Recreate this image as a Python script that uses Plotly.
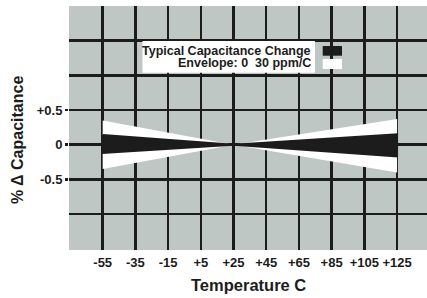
import plotly.graph_objects as go

# Data
temps = [-55, 25, 125]                      # Temperature C
envelope_upper = [0.35, 0.0, 0.37]          # % change, envelope top
envelope_lower = [-0.35, 0.0, -0.40]        # % change, envelope bottom
typical_upper = [0.14, 0.0, 0.15]           # % change, typical top
typical_lower = [-0.12, 0.0, -0.17]         # % change, typical bottom

x_tickvals = [-55, -35, -15, 5, 25, 45, 65, 85, 105, 125]
x_ticktext = ["-55", "-35", "-15", "+5", "+25", "+45", "+65", "+85", "+105", "+125"]
y_tickvals = [-0.5, 0, 0.5]
y_ticktext = ["-0.5", "0", "+0.5"]
y_minor_grid = [-1.0, 1.0, 1.5]

legend_lines = ["Typical Capacitance Change", "Envelope: 0  30 ppm/C"]

FONT = "Liberation Sans, Arial, sans-serif"
INK = "#1c1c1c"
BG = "#bfc7c4"

def bowtie(xs, up, lo):
    return xs + xs[::-1], up + lo[::-1]

fig = go.Figure()
ex, ey = bowtie(temps, envelope_upper, envelope_lower)
fig.add_trace(go.Scatter(x=ex + [ex[0]], y=ey + [ey[0]], fill="toself", mode="lines",
                         fillcolor="#ffffff", line=dict(width=0, color="#ffffff"),
                         hoverinfo="skip", showlegend=False))
tx, ty = bowtie(temps, typical_upper, typical_lower)
fig.add_trace(go.Scatter(x=tx + [tx[0]], y=ty + [ty[0]], fill="toself", mode="lines",
                         fillcolor=INK, line=dict(width=2, color=INK),
                         hoverinfo="skip", showlegend=False))

fig.update_layout(
    width=427, height=298,
    margin=dict(l=69, r=0, t=6, b=48, autoexpand=False),
    paper_bgcolor="#ffffff", plot_bgcolor=BG,
    font=dict(family=FONT, color=INK, size=13),
    showlegend=False,
    xaxis=dict(range=[-75.6, 143.3], tickvals=x_tickvals, ticktext=x_ticktext,
               showgrid=True, gridcolor=INK, gridwidth=2.5, zeroline=False,
               showline=False, ticks="", ticklabelstandoff=3,
               tickfont=dict(family=FONT, size=13, color=INK, weight="bold"),
               automargin=False, fixedrange=True),
    yaxis=dict(range=[-1.517, 1.998], tickvals=y_tickvals, ticktext=y_ticktext,
               showgrid=True, gridcolor=INK, gridwidth=2.5, zeroline=False,
               showline=False, ticks="outside", ticklen=3, tickwidth=2.5, tickcolor=INK,
               tickfont=dict(family=FONT, size=13, color=INK, weight="bold"),
               minor=dict(tickvals=y_minor_grid, showgrid=True, gridcolor=INK,
                          gridwidth=2.5, ticks=""),
               automargin=False, fixedrange=True),
)

# Legend box drawn as annotation box elements
fig.add_shape(type="rect", xref="paper", yref="paper", x0=0.2053, x1=0.687,
              y0=0.7266, y1=0.8566, fillcolor="#ffffff", line=dict(width=0), layer="above")
fig.add_shape(type="rect", xref="paper", yref="paper", x0=0.7087, x1=0.7626,
              y0=0.7963, y1=0.836, fillcolor=INK, line=dict(width=0), layer="above")
fig.add_shape(type="rect", xref="paper", yref="paper", x0=0.7087, x1=0.7626,
              y0=0.7418, y1=0.7828, fillcolor="#ffffff", line=dict(width=0), layer="above")

for i, (txt, ypx) in enumerate(zip(legend_lines, [50.8, 63.1])):
    fig.add_annotation(text=txt, xref="paper", yref="paper", x=(312.8 - 69) / 358,
                       y=(250 - ypx) / 244, xanchor="right", yanchor="middle",
                       showarrow=False, font=dict(family=FONT, size=12.5, color=INK, weight="bold"))

fig.add_annotation(text="Temperature C", xref="paper", yref="paper", x=0.5,
                   y=(250 - 285) / 244, xanchor="center", yanchor="middle", showarrow=False,
                   font=dict(family=FONT, size=16.5, color=INK, weight="bold"))
fig.add_annotation(text="% Δ Capacitance", xref="paper", yref="paper", x=(17 - 69) / 358,
                   y=(250 - 140) / 244, xanchor="center", yanchor="middle", textangle=-90,
                   showarrow=False, font=dict(family=FONT, size=16, color=INK, weight="bold"))

fig.write_html("out.html", config={"displayModeBar": False, "staticPlot": True},
               post_script="document.body.style.margin='0';document.body.style.overflow='hidden';")
